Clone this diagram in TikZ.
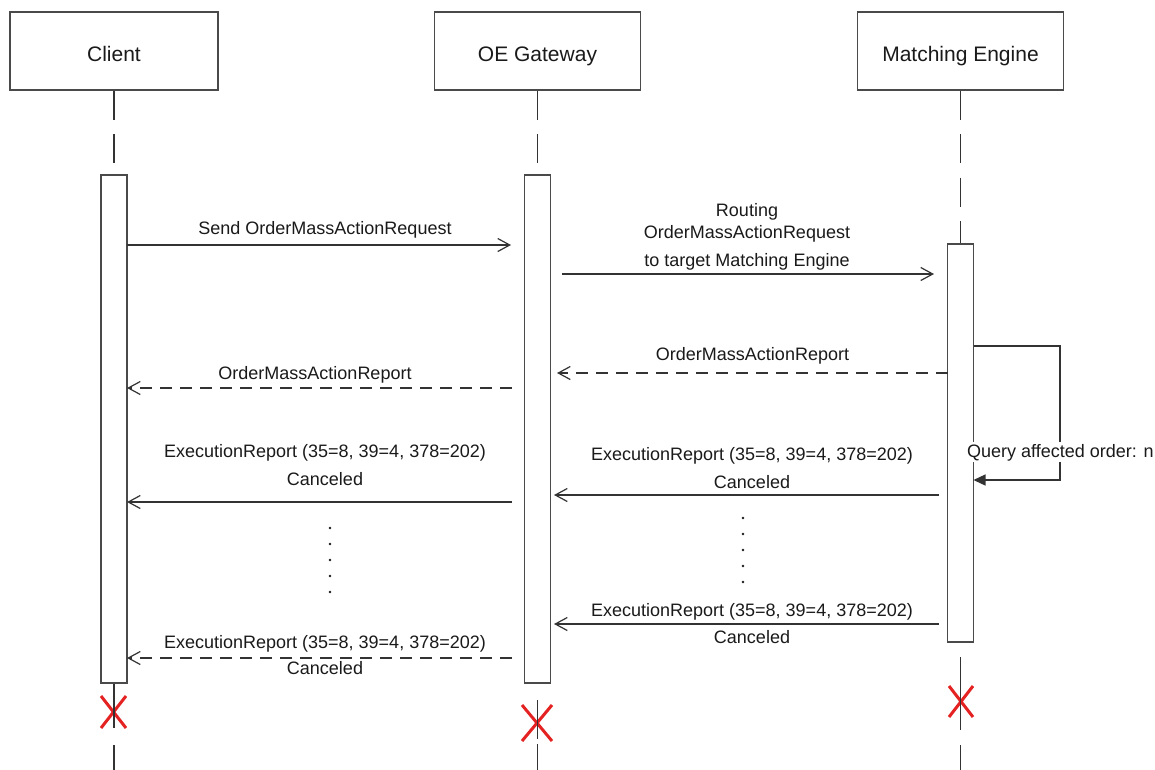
\documentclass[tikz,border=0pt]{standalone}
\usepackage{fontspec}
\setmainfont{Liberation Sans}
\usetikzlibrary{arrows.meta}
\definecolor{ln}{HTML}{333333}
\definecolor{bx}{HTML}{4A4A4A}
\definecolor{txt}{HTML}{1A1A1A}
\definecolor{xred}{HTML}{E42222}
\begin{document}
\begin{tikzpicture}[x=1pt,y=-1pt,
  actor/.style={draw=bx,line width=1.4pt,fill=white,minimum height=78pt,inner sep=0pt,
    text height=21pt,text depth=0pt,font=\fontsize{21}{25}\selectfont,text=txt},
  actbar/.style={draw=bx,line width=1.4pt,fill=white,minimum width=26pt,inner sep=0pt},
  lifeline/.style={draw=ln,line width=1.4pt,dash pattern=on 29pt off 14.5pt},
  lifeseg/.style={draw=ln,line width=1.4pt},
  msg/.style={draw=ln,line width=1.3pt,-{Straight Barb[length=12pt,width=13pt,line width=1.2pt]}},
  reply/.style={msg,dash pattern=on 12pt off 8pt},
  selfmsg/.style={draw=ln,line width=1.3pt,-{Triangle[length=12pt,width=11pt]}},
  lbl/.style={font=\fontsize{18}{22}\selectfont,text=txt,inner sep=0pt,anchor=base},
  dot/.style={circle,fill=txt,inner sep=0pt,minimum size=2.8pt},
  destroy/.style={draw=xred,line width=3pt}
]
\useasboundingbox[fill=white] (0,0) rectangle (1155,769);

% actors
\node[actor,minimum width=208pt] (client) at (114,51) {Client};
\node[actor,minimum width=206pt] (gw) at (537.5,51) {OE Gateway};
\node[actor,minimum width=206pt] (me) at (960.5,51) {Matching Engine};

% destruction marks (under lifelines)
\draw[destroy] (101,696) -- (126,728) (126,696) -- (101,728);
\draw[destroy] (522,705) -- (552,741) (552,705) -- (522,741);
\draw[destroy] (949,686) -- (973,717) (973,686) -- (949,717);

% lifelines above the bars
\coordinate (ctop) at (114,175);
\coordinate (gtop) at (537.5,175);
\coordinate (mtop) at (960.5,244);
\draw[lifeline] (client.south) -- (ctop);
\draw[lifeline] (gw.south) -- (gtop);
\draw[lifeline] (me.south) -- (mtop);

% lifelines below the bars
\coordinate (c1) at (114,683); \coordinate (c2) at (114,728);
\coordinate (c3) at (114,745); \coordinate (c4) at (114,770);
\coordinate (g1) at (537.5,700); \coordinate (g2) at (537.5,739);
\coordinate (g3) at (537.5,744); \coordinate (g4) at (537.5,770);
\coordinate (e1) at (960.5,657); \coordinate (e2) at (960.5,730);
\coordinate (e3) at (960.5,745); \coordinate (e4) at (960.5,770);
\draw[lifeseg] (c1) -- (c2) (c3) -- (c4);
\draw[lifeseg] (g1) -- (g2) (g3) -- (g4);
\draw[lifeseg] (e1) -- (e2) (e3) -- (e4);

% activation bars
\node[actbar,minimum height=508pt] (cbar) at (114,429) {};
\node[actbar,minimum height=508pt] (gbar) at (537.5,429) {};
\node[actbar,minimum height=398pt] (mbar) at (960.5,443) {};

% message end points
\coordinate (m1a) at (127,245);   \coordinate (m1b) at (511,245);
\coordinate (m2a) at (562,274);   \coordinate (m2b) at (934,274);
\coordinate (m3a) at (947.5,373); \coordinate (m3b) at (557,373);
\coordinate (m4a) at (512,388);   \coordinate (m4b) at (127,388);
\coordinate (m5a) at (939,495);   \coordinate (m5b) at (554,495);
\coordinate (m6a) at (512,502);   \coordinate (m6b) at (127,502);
\coordinate (m7a) at (939,624);   \coordinate (m7b) at (554,624);
\coordinate (m8a) at (512,658);   \coordinate (m8b) at (127,658);
\coordinate (s1) at (973.5,346);  \coordinate (s2) at (1060,346);
\coordinate (s3) at (1060,480);   \coordinate (s4) at (973.5,480);

% messages
\draw[msg] (m1a) -- (m1b);
\draw[msg] (m2a) -- (m2b);
\draw[reply] (m3a) -- (m3b);
\draw[reply] (m4a) -- (m4b);
\draw[msg] (m5a) -- (m5b);
\draw[msg] (m6a) -- (m6b);
\draw[msg] (m7a) -- (m7b);
\draw[reply] (m8a) -- (m8b);
\draw[selfmsg] (s1) -- (s2) -- (s3) -- (s4);

% labels
\node[lbl] (t1) at (325,234.5) {Send OrderMassActionRequest};
\node[lbl] (t2a) at (747,216.5) {Routing};
\node[lbl] (t2b) at (747,238.5) {OrderMassActionRequest};
\node[lbl] (t2c) at (747,266.5) {to target Matching Engine};
\node[lbl] (t3) at (752.5,360) {OrderMassActionReport};
\node[lbl] (t4) at (315,379.5) {OrderMassActionReport};
\node[lbl] (t5a) at (752,460.5) {ExecutionReport (35=8, 39=4, 378=202)};
\node[lbl] (t5b) at (752,488.5) {Canceled};
\node[lbl] (t6a) at (325,457.5) {ExecutionReport (35=8, 39=4, 378=202)};
\node[lbl] (t6b) at (325,485.5) {Canceled};
\node[lbl] (t7a) at (752,616) {ExecutionReport (35=8, 39=4, 378=202)};
\node[lbl] (t7b) at (752,643.5) {Canceled};
\node[lbl] (t8a) at (325,648) {ExecutionReport (35=8, 39=4, 378=202)};
\node[lbl] (t8b) at (325,674.5) {Canceled};
\node[lbl,anchor=base west,fill=white,inner xsep=1pt,inner ysep=1.5pt] (tq) at (966,457) {Query affected order: n};

% continuation dots
\foreach \yy [count=\i] in {528,544,560,576,592} \node[dot] (dl\i) at (330,\yy) {};
\foreach \yy [count=\i] in {518,534,550,566,582} \node[dot] (dr\i) at (743,\yy) {};
\end{tikzpicture}
\end{document}
